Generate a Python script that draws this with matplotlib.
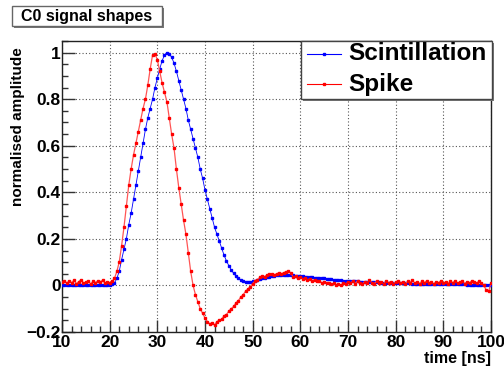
import numpy as np
import matplotlib
matplotlib.use("Agg")
import matplotlib.pyplot as plt
from matplotlib.patches import Rectangle
from matplotlib.lines import Line2D
from matplotlib.ticker import MultipleLocator, FuncFormatter

plt.rcParams['font.family'] = ['Liberation Sans', 'DejaVu Sans']
plt.rcParams['font.weight'] = 'bold'

time_ns = np.arange(10, 100.01, 0.5)

scintillation = [
    0.002, 0.001, 0.002, 0.0, 0.001, 0.002, 0.001, 0.0, 0.002, 0.001, 0.002,
    0.001, 0.0, 0.002, 0.001, 0.002, 0.001, 0.002, 0.002, 0.003, 0.004, 0.006,
    0.01, 0.03, 0.06, 0.11, 0.155, 0.20, 0.26, 0.31, 0.37, 0.43, 0.49, 0.55,
    0.61, 0.67, 0.72, 0.76, 0.80, 0.85, 0.89, 0.93, 0.965, 0.99, 1.0,
    0.995, 0.98, 0.955, 0.92, 0.88, 0.84, 0.80, 0.76, 0.71, 0.67, 0.63, 0.59,
    0.55, 0.50, 0.46, 0.41, 0.37, 0.33, 0.29, 0.25, 0.22, 0.19, 0.16, 0.13,
    0.105, 0.085, 0.067, 0.052, 0.04, 0.03,
    0.023, 0.018, 0.015, 0.015, 0.016, 0.018,
    0.021, 0.024, 0.027, 0.03, 0.033, 0.036, 0.038, 0.040, 0.042, 0.043,
    0.044, 0.045, 0.045, 0.045, 0.045, 0.044, 0.043, 0.042, 0.041, 0.04,
    0.039, 0.038, 0.037, 0.036, 0.035, 0.034, 0.033, 0.032, 0.031, 0.03,
    0.029, 0.027, 0.026, 0.025, 0.024, 0.023, 0.022, 0.021, 0.02, 0.019,
    0.018, 0.018, 0.017, 0.017, 0.016, 0.016, 0.015, 0.015, 0.014, 0.014,
    0.013, 0.013, 0.013, 0.012, 0.012, 0.012, 0.011, 0.011, 0.011, 0.01,
    0.01, 0.01, 0.009, 0.009, 0.009, 0.009, 0.008, 0.008, 0.008, 0.008,
    0.007, 0.007, 0.007, 0.007, 0.007, 0.006, 0.006, 0.006, 0.006, 0.006,
    0.006, 0.005, 0.005, 0.005, 0.005, 0.005, 0.005, 0.005, 0.005, 0.004,
    0.004, 0.004, 0.004, 0.004, 0.004, 0.004, 0.004, 0.004, 0.004, 0.004,
]

spike = [
    0.015, 0.02, 0.01, 0.018, 0.012, 0.022, 0.008, 0.016, 0.025, 0.01, 0.014,
    0.02, 0.006, 0.018, 0.012, 0.02, 0.015, 0.022, 0.01, 0.016, 0.012, 0.018,
    0.03, 0.06, 0.10, 0.17, 0.25, 0.34, 0.43, 0.50, 0.56, 0.61, 0.66, 0.71,
    0.76, 0.80, 0.86, 0.93, 0.99, 0.995, 0.97, 0.92, 0.87, 0.83, 0.79,
    0.72, 0.65, 0.59, 0.50, 0.42, 0.35, 0.28, 0.22, 0.14, 0.06, 0.0, -0.04,
    -0.07, -0.10, -0.12, -0.14, -0.155, -0.165, -0.16, -0.17, -0.155, -0.15,
    -0.145, -0.13, -0.125, -0.11, -0.10, -0.09, -0.075, -0.065,
    -0.05, -0.04, -0.025, -0.015, -0.005, 0.008,
    0.018, 0.025, 0.035, 0.04, 0.038, 0.045, 0.048, 0.05, 0.045, 0.05,
    0.053, 0.05, 0.055, 0.058, 0.06, 0.055, 0.035, 0.04, 0.03, 0.035,
    0.028, 0.03, 0.025, 0.027, 0.02, 0.025, 0.018, 0.02, 0.012, 0.015,
    0.01, 0.012, 0.005, 0.01, 0.002, 0.008, 0.0, 0.012, 0.005, 0.015,
    0.01, 0.018, 0.008, 0.02, 0.012, 0.006, 0.016, 0.01, 0.022, 0.012,
    0.008, 0.018, 0.01, 0.015, 0.006, 0.02, 0.012, 0.016, 0.008, 0.014,
    0.02, 0.01, 0.016, 0.006, 0.018, 0.012, 0.022, 0.01, 0.015, 0.008,
    0.018, 0.012, 0.02, 0.01, 0.014, 0.006, 0.016, 0.012, 0.02, 0.01,
    0.015, 0.008, 0.018, 0.012, 0.02, 0.01, 0.014, 0.018, 0.008, 0.016,
    0.012, 0.02, 0.015, 0.01, 0.018, 0.01, 0.0, -0.02, -0.025, 0.01,
]

series_names = ["Scintillation", "Spike"]
title_text = "C0 signal shapes"
x_label = "time [ns]"
y_label = "normalised amplitude"

W, H = 504, 374
fig = plt.figure(figsize=(W / 100, H / 100), dpi=100)
L, R, T, B = 62, 491, 41, 332
ax = fig.add_axes([L / W, 1 - B / H, (R - L) / W, (B - T) / H])

blue = "#0000ff"
red = "#ff0000"
ax.plot(time_ns, scintillation, color=blue, lw=0.6, marker='s', ms=2.1,
        mec=blue, mfc=blue, zorder=3)
ax.plot(time_ns, spike, color='#ff5555', lw=0.9, marker='s', ms=2.1,
        mec=red, mfc=red, zorder=4)

ax.set_xlim(10, 100)
ax.set_ylim(-0.2, 1.05)
ax.xaxis.set_major_locator(MultipleLocator(10))
ax.xaxis.set_minor_locator(MultipleLocator(2))
ax.yaxis.set_major_locator(MultipleLocator(0.2))
ax.yaxis.set_minor_locator(MultipleLocator(0.05))

def yfmt(v, pos):
    if abs(v) < 1e-9:
        return "0"
    s = ("%.1f" % v).rstrip('0').rstrip('.')
    return s.replace('-', '\u2212')
ax.yaxis.set_major_formatter(FuncFormatter(yfmt))

ax.grid(True, which='major', color='#555555', linestyle=(0, (1, 2)), lw=0.8)
ax.tick_params(which='both', direction='in', top=False, right=False,
               colors='#333333', labelcolor='black', labelsize=12.5)
ax.tick_params(which='major', length=9, width=1)
ax.tick_params(which='minor', length=4.5, width=1)
ax.tick_params(axis='x', pad=2)
ax.tick_params(axis='y', pad=1)
for lbl in ax.get_xticklabels() + ax.get_yticklabels():
    lbl.set_fontweight('bold')
for s in ax.spines.values():
    s.set_color('#222222')
    s.set_linewidth(1.0)

fig.text(491 / W, 1 - 358 / H, x_label, ha='right', va='center',
         fontsize=11.5, fontweight='bold')
fig.text(18 / W, 1 - 47 / H, y_label, ha='center', va='top', rotation=90,
         fontsize=11, fontweight='bold')

def px_rect(x0, y0, x1, y1, **kw):
    return Rectangle((x0 / W, 1 - y1 / H), (x1 - x0) / W, (y1 - y0) / H,
                     transform=fig.transFigure, **kw)

# title box with shadow
fig.add_artist(px_rect(14, 8, 164, 28, facecolor='#777777', edgecolor='none'))
fig.add_artist(px_rect(12, 6, 162, 26, facecolor='white', edgecolor='#666666', lw=1))
fig.text(87 / W, 1 - 16 / H, title_text, ha='center', va='center',
         fontsize=11.5, fontweight='bold')

# legend box with shadow
fig.add_artist(px_rect(303, 43, 494, 101, facecolor='#777777', edgecolor='none', zorder=5))
fig.add_artist(px_rect(301, 41, 492, 99, facecolor='white', edgecolor='#444444', lw=1, zorder=6))
for i, (name, col) in enumerate(zip(series_names, [blue, red])):
    yy = 1 - (54 + i * 30) / H
    fig.add_artist(Line2D([307 / W, 341 / W], [yy, yy], color=col, lw=0.8,
                          transform=fig.transFigure, zorder=7))
    fig.add_artist(Line2D([324 / W], [yy], color=col, marker='s', ms=2.0,
                          transform=fig.transFigure, zorder=7))
    fig.text(348 / W, yy, name, ha='left', va='center', fontsize=17.5,
             fontweight='bold', zorder=8)

fig.savefig("out.png", dpi=100)
